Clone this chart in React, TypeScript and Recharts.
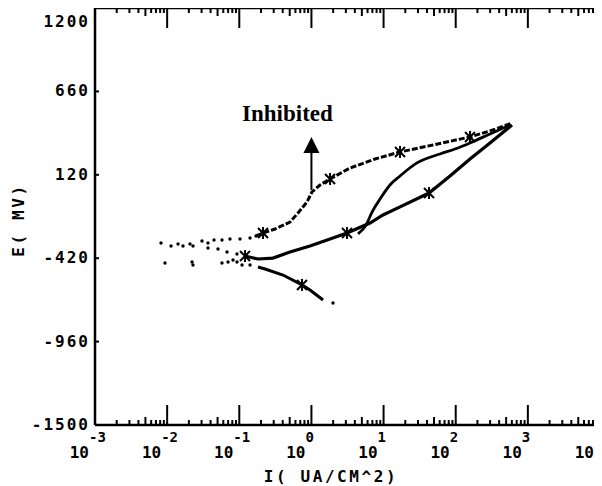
import React from "react";
import { ComposedChart, Line, Scatter, XAxis, YAxis, ReferenceLine } from "recharts";

// ---- axis definitions ----
const decades = [-3, -2, -1, 0, 1, 2, 3, 4]; // log10 of I (uA/cm^2)
const eTicks = [-1500, -960, -420, 120, 660, 1200]; // mV
const xTitle = "I( UA/CM^2)";
const yTitle = "E( MV)";
const annotationText = "Inhibited";

// ---- forward (anodic) scan, upper branch ----
const fwdDotLogI = [-2.085, -1.946, -1.849, -1.78, -1.683, -1.517, -1.434, -1.35, -1.24, -1.129, -0.99, -0.851, -0.768];
const fwdDotE = [-322, -341, -328, -341, -328, -309, -322, -302, -302, -296, -296, -289, -276];
const fwdLogI = [-0.768, -0.671, -0.505, -0.297, -0.186, -0.061, 0.008, 0.119, 0.258, 0.535, 0.881, 1.228, 1.685, 2.198, 2.475, 2.78];
const fwdE = [-276, -257, -231, -186, -127, -56, 9, 54, 93, 164, 222, 268, 313, 365, 404, 455];

// ---- reverse scan, lower branch ----
const revLogI = [2.78, 2.475, 2.198, 1.921, 1.63, 1.228, 0.992, 0.812, 0.493, 0.258, -0.02, -0.297, -0.533, -0.741, -0.921];
const revE = [442, 326, 222, 112, 2, -88, -140, -192, -257, -296, -341, -380, -419, -425, -406];
const revDotLogI = [-1.032, -1.17, -1.295, -1.434, -1.642];
const revDotE = [-393, -380, -360, -354, -341];

// ---- cathodic branch ----
const cathDotLogI = [-2.03, -1.655, -1.642, -1.24, -1.156, -1.087, -1.032, -0.962, -0.851, 0.299];
const cathDotE = [-451, -445, -464, -451, -445, -432, -445, -464, -464, -710];
const cathLogI = [-0.741, -0.643, -0.394, -0.131, -0.02, 0.161];
const cathE = [-477, -490, -529, -593, -626, -691];

// ---- inner loop ----
const innerLogI = [2.753, 2.475, 2.198, 1.99, 1.782, 1.463, 1.228, 1.089, 0.951, 0.84, 0.757, 0.646];
const innerE = [442, 384, 326, 287, 255, 197, 112, 54, -37, -121, -205, -263];

// ---- star markers ----
const starLogI = [-0.671, 0.258, 1.228, 2.198, 1.63, 0.493, -0.921, -0.131];
const starE = [-257, 93, 268, 365, 2, -257, -406, -593];

// ---- annotation arrow ----
const arrowLogI = 0;
const arrowE = [22, 365];

const zip = (xs: number[], ys: number[]) => xs.map((x, i) => ({ x, y: ys[i] }));

const dotsData = [...zip(fwdDotLogI, fwdDotE), ...zip(revDotLogI, revDotE), ...zip(cathDotLogI, cathDotE)];
const fwdData = zip(fwdLogI, fwdE);
const revData = zip(revLogI, revE);
const cathData = zip(cathLogI, cathE);
const innerData = zip(innerLogI, innerE);
const starData = zip(starLogI, starE);

const minorFactors = [2, 3, 4, 5, 6, 7, 8, 9];
const xTicks: number[] = [];
decades.forEach((d, i) => {
  xTicks.push(d);
  if (i < decades.length - 1) minorFactors.forEach((k) => xTicks.push(d + Math.log10(k)));
});

const FONT = "'DejaVu Sans Mono', monospace";
const isMajor = (v: number) => Math.abs(v - Math.round(v)) < 1e-6;
const tickLen = (v: number) => {
  if (isMajor(v)) return 20;
  const frac = v - Math.floor(v + 1e-9);
  return Math.abs(frac - Math.log10(5)) < 1e-6 ? 8 : 5;
};

const BottomTick = (props: any) => {
  const { x, y, payload } = props;
  const v = payload.value as number;
  const len = tickLen(v);
  const line = <line x1={x} x2={x} y1={y} y2={y - len} stroke="#000" strokeWidth={2} />;
  if (!isMajor(v)) return <g>{line}</g>;
  const e = Math.round(v);
  return (
    <g>
      {line}
      <text x={x - 6} y={y + 33} textAnchor="end" fontFamily={FONT} fontWeight="bold" fontSize={16} fill="#000">
        10
      </text>
      <text x={x - 6} y={y + 17} textAnchor="start" fontFamily={FONT} fontWeight="bold" fontSize={14} fill="#000">
        {String(e)}
      </text>
    </g>
  );
};

const TopTick = (props: any) => {
  const { x, y, payload } = props;
  const len = tickLen(payload.value as number);
  return <line x1={x} x2={x} y1={y} y2={y + len} stroke="#000" strokeWidth={2} />;
};

const LeftTick = (props: any) => {
  const { x, y, payload } = props;
  const ty = Math.max(y, 22);
  return (
    <g>
      <line x1={x} x2={x + 4} y1={y} y2={y} stroke="#000" strokeWidth={2} />
      <text x={x - 5} y={ty + 5} textAnchor="end" fontFamily={FONT} fontWeight="bold" fontSize={16} letterSpacing={2} fill="#000">
        {String(payload.value)}
      </text>
    </g>
  );
};

const RightTick = (props: any) => {
  const { x, y, payload } = props;
  if (payload.value === 1200 || payload.value === -1500) return <g />;
  return <rect x={x - 4} y={y - 1.5} width={3} height={3} fill="#000" />;
};

const Dot = (p: any) => <circle cx={p.cx} cy={p.cy} r={1.7} fill="#000" />;

const Star = (p: any) => {
  const { cx, cy } = p;
  const r = 5;
  return (
    <g stroke="#000" strokeWidth={2}>
      <line x1={cx - r} y1={cy - r} x2={cx + r} y2={cy + r} />
      <line x1={cx - r} y1={cy + r} x2={cx + r} y2={cy - r} />
      <line x1={cx} y1={cy - r - 1} x2={cx} y2={cy + r + 1} />
    </g>
  );
};

const ArrowShape = (p: any) => {
  const { x1, y1, x2, y2 } = p;
  const top = Math.min(y1, y2);
  const bottom = Math.max(y1, y2);
  const x = (x1 + x2) / 2;
  return (
    <g>
      <line x1={x} x2={x} y1={bottom} y2={top + 14} stroke="#000" strokeWidth={2} />
      <polygon points={`${x},${top} ${x - 8},${top + 16} ${x + 8},${top + 16}`} fill="#000" />
      <text x={x - 24} y={top - 16} textAnchor="middle" fontFamily="'Liberation Serif', 'Times New Roman', serif" fontWeight="bold" fontSize={23} fill="#000">
        {annotationText}
      </text>
    </g>
  );
};

export default function App() {
  return (
    <div style={{ position: "relative", width: 602, height: 486, marginLeft: -8, marginTop: -8, background: "#fff" }}>
      <ComposedChart width={602} height={486} margin={{ top: 0, right: 0, bottom: 0, left: 0 }}>
        <XAxis
          xAxisId="b"
          orientation="bottom"
          type="number"
          dataKey="x"
          domain={[-3, 4]}
          ticks={xTicks}
          interval={0}
          allowDataOverflow
          height={61}
          tickSize={0}
          tickMargin={0}
          tickLine={false}
          axisLine={{ stroke: "#000", strokeWidth: 2.5 }}
          tick={<BottomTick />}
        />
        <XAxis
          xAxisId="t"
          orientation="top"
          type="number"
          dataKey="x"
          domain={[-3, 4]}
          ticks={xTicks}
          interval={0}
          allowDataOverflow
          height={8}
          tickSize={0}
          tickMargin={0}
          tickLine={false}
          axisLine={{ stroke: "#000", strokeWidth: 2.5 }}
          tick={<TopTick />}
        />
        <YAxis
          yAxisId="l"
          type="number"
          dataKey="y"
          domain={[-1500, 1200]}
          ticks={eTicks}
          interval={0}
          allowDataOverflow
          width={95}
          tickSize={0}
          tickMargin={0}
          tickLine={false}
          axisLine={{ stroke: "#000", strokeWidth: 2.5 }}
          tick={<LeftTick />}
        />
        <YAxis
          yAxisId="r"
          orientation="right"
          type="number"
          dataKey="y"
          domain={[-1500, 1200]}
          ticks={eTicks}
          interval={0}
          allowDataOverflow
          width={2}
          tickSize={0}
          tickMargin={0}
          tickLine={false}
          axisLine={false}
          tick={<RightTick />}
        />
        <Line xAxisId="b" yAxisId="l" data={fwdData} dataKey="y" type="linear" stroke="#000" strokeWidth={3} strokeDasharray="6 2" dot={false} activeDot={false} isAnimationActive={false} />
        <Line xAxisId="b" yAxisId="l" data={revData} dataKey="y" type="linear" stroke="#000" strokeWidth={3.2} dot={false} activeDot={false} isAnimationActive={false} />
        <Line xAxisId="b" yAxisId="l" data={innerData} dataKey="y" type="monotone" stroke="#000" strokeWidth={2.8} dot={false} activeDot={false} isAnimationActive={false} />
        <Line xAxisId="b" yAxisId="l" data={cathData} dataKey="y" type="linear" stroke="#000" strokeWidth={3} dot={false} activeDot={false} isAnimationActive={false} />
        <Scatter xAxisId="b" yAxisId="l" data={dotsData} dataKey="y" shape={<Dot />} isAnimationActive={false} />
        <Scatter xAxisId="b" yAxisId="l" data={starData} dataKey="y" shape={<Star />} isAnimationActive={false} />
        <ReferenceLine
          xAxisId="b"
          yAxisId="l"
          segment={[{ x: arrowLogI, y: arrowE[0] }, { x: arrowLogI, y: arrowE[1] }]}
          shape={<ArrowShape />}
        />
      </ComposedChart>
      <svg width={602} height={486} style={{ position: "absolute", left: 0, top: 0, pointerEvents: "none" }}>
        <text x={331} y={482} textAnchor="middle" fontFamily={FONT} fontWeight="bold" fontSize={16} letterSpacing={2.6} fill="#000">
          {xTitle}
        </text>
        <text
          x={18}
          y={220}
          transform="rotate(-90, 18, 220)"
          textAnchor="middle"
          dominantBaseline="central"
          fontFamily={FONT}
          fontWeight="bold"
          fontSize={16}
          letterSpacing={2.6}
          fill="#000"
        >
          {yTitle}
        </text>
      </svg>
    </div>
  );
}
